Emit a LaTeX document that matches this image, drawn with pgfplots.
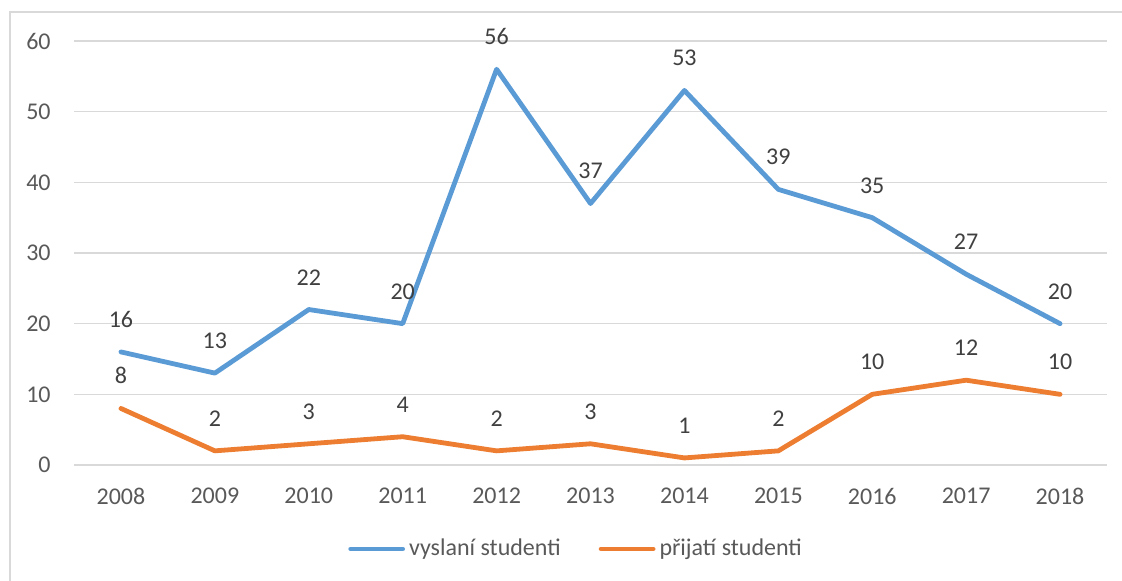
\documentclass[border=0pt]{standalone}
\usepackage{fontspec}
\setmainfont{Carlito}
\usepackage{pgfplots}
\pgfplotsset{compat=1.18}
\definecolor{sblue}{HTML}{5B9BD5}
\definecolor{sorange}{HTML}{ED7D31}
\definecolor{gridc}{HTML}{D9D9D9}
\definecolor{tickc}{HTML}{595959}
\definecolor{labc}{HTML}{404040}
\begin{document}
\begin{tikzpicture}
\useasboundingbox (0,0) rectangle (561pt,290.5pt);
\draw[gridc, line width=0.75pt] (5pt,0pt) -- (5pt,284.5pt) -- (561pt,284.5pt);
\begin{axis}[
  at={(37pt,58pt)}, anchor=south west,
  scale only axis, width=516.5pt, height=212pt,
  xmin=-0.5, xmax=10.5, ymin=0, ymax=60,
  xtick={0,...,10},
  xticklabels={2008,2009,2010,2011,2012,2013,2014,2015,2016,2017,2018},
  ytick={0,10,...,60},
  axis line style={draw=none},
  major tick length=0pt,
  ymajorgrids, grid style={gridc, line width=0.75pt},
  tick label style={font=\fontsize{12}{14}\selectfont, text=tickc},
  /pgf/number format/assume math mode=true,
  yticklabel style={anchor=east, inner sep=0pt, xshift=-11.5pt},
  xticklabel style={anchor=north, inner sep=0pt, yshift=-11.5pt},
  clip=false,
  nodes near coords,
  every node near coord/.append style={font=\fontsize{12}{14}\selectfont, text=labc, anchor=south, inner sep=0pt, yshift=11pt, /pgf/number format/assume math mode=true},
  legend columns=2,
  legend style={at={(rel axis cs:0.487,-0.198)}, anchor=center, draw=none, fill=none,
    font=\fontsize{12}{14}\selectfont, text=tickc,
    /tikz/every even column/.append style={column sep=17pt},
    /tikz/every odd column/.append style={column sep=0pt}},
  legend cell align=left,
  legend image code/.code={\draw[#1, line cap=round] (0pt,0pt) -- (26pt,0pt);},
]
\addplot[sblue, line width=2.4pt, line join=round, line cap=round] coordinates {
 (0,16) (1,13) (2,22) (3,20) (4,56) (5,37) (6,53) (7,39) (8,35) (9,27) (10,20)};
\addlegendentry{vyslaní studenti}
\addplot[sorange, line width=2.4pt, line join=round, line cap=round] coordinates {
 (0,8) (1,2) (2,3) (3,4) (4,2) (5,3) (6,1) (7,2) (8,10) (9,12) (10,10)};
\addlegendentry{přijatí studenti}
\end{axis}
\end{tikzpicture}
\end{document}
